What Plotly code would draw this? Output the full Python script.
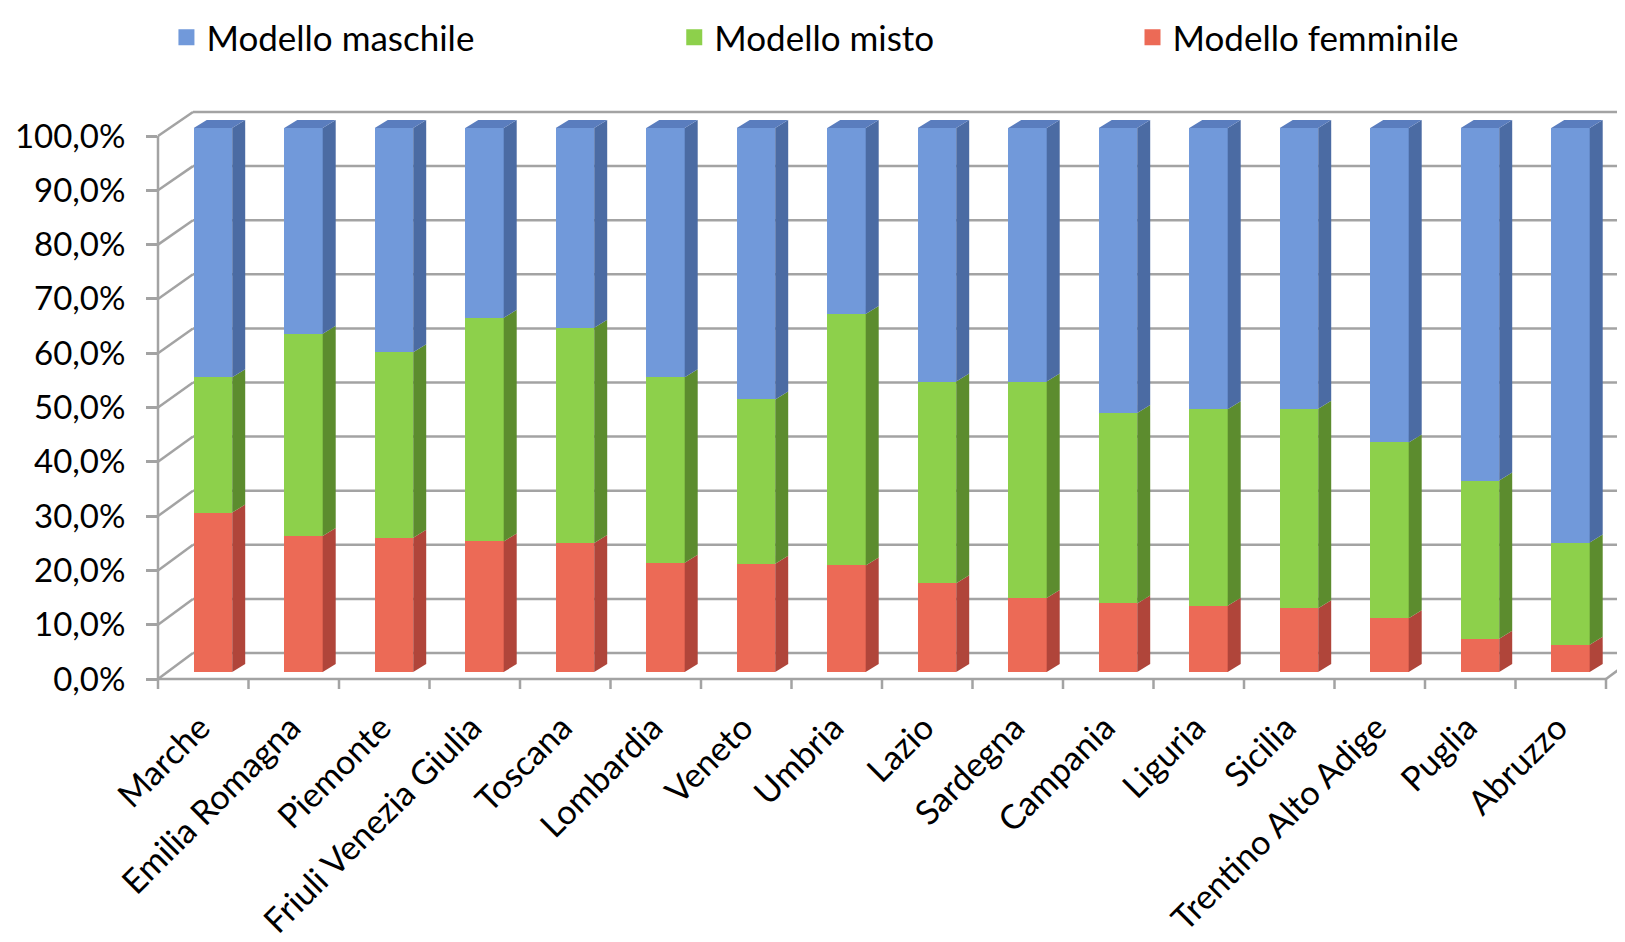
import plotly.graph_objects as go

# ---------------- data ----------------
categories = ["Marche", "Emilia Romagna", "Piemonte", "Friuli Venezia Giulia", "Toscana",
              "Lombardia", "Veneto", "Umbria", "Lazio", "Sardegna", "Campania", "Liguria",
              "Sicilia", "Trentino Alto Adige", "Puglia", "Abruzzo"]
femminile = [29.3, 25.0, 24.7, 24.0, 23.7, 20.1, 19.9, 19.6, 16.3, 13.6, 12.6, 12.2, 11.7, 9.9, 6.1, 5.0]
misto = [24.9, 37.2, 34.1, 41.1, 39.6, 34.1, 30.2, 46.2, 37.1, 39.8, 35.0, 36.1, 36.7, 32.3, 29.1, 18.8]
maschile = [45.8, 37.8, 41.2, 34.9, 36.7, 45.8, 49.9, 34.2, 46.6, 46.6, 52.4, 51.7, 51.6, 57.8, 64.8, 76.2]
y_ticks = [0, 10, 20, 30, 40, 50, 60, 70, 80, 90, 100]
y_tick_labels = ["0,0%", "10,0%", "20,0%", "30,0%", "40,0%", "50,0%",
                 "60,0%", "70,0%", "80,0%", "90,0%", "100,0%"]

series = [
    ("Modello femminile", femminile, "#EC6A56", "#B0453A", "#C9574A"),
    ("Modello misto", misto, "#8DD04B", "#5C8C2E", "#74AD3D"),
    ("Modello maschile", maschile, "#7199DA", "#4B6BA3", "#5A7DBE"),
]

# ---------------- geometry (figure pixels; page body adds 8px) ----------------
W, H = 1625, 942
O = 8                                            # page body margin
PL, PR, PT, PB = 158 - O, 1625, 100 - O, 700 - O  # plot area
X0_PX, UNIT_PX = 158 - O, 90.5                   # x=-0.5 at X0_PX
FRONT_Y0, FRONT_K = 679 - O, 5.43                # axis plane: py = y0 - k*v
BAR_Y0, BAR_K = 672 - O, 5.44                    # bar front faces
BACK_Y0, BACK_K, BACK_DX = 653 - O, 5.41, 35     # back wall
BAR_W, BAR_OFF = 0.425, -0.105
SIDE_DX = 13 / UNIT_PX
SIDE_DY = 8 / BAR_K
LABEL_SHIFT = 0.035
GRID = "#A3A3A3"

n = len(categories)
xr = [-0.5, -0.5 + (PR - X0_PX) / UNIT_PX]
yr_front = [(FRONT_Y0 - PB) / FRONT_K, (FRONT_Y0 - PT) / FRONT_K]
yr_bar = [(BAR_Y0 - PB) / BAR_K, (BAR_Y0 - PT) / BAR_K]


def xp(px):
    return (px - PL) / (PR - PL)


def yp(py):
    return (PB - py) / (PB - PT)


def xpx(x):
    return X0_PX + (x + 0.5) * UNIT_PX


fig = go.Figure()
xs = list(range(n))
shapes = []

# walls / floor
front_x_left = xpx(-0.5)
front_x_right = xpx(n - 0.5)
back_x_left = front_x_left + BACK_DX
for v in y_ticks:
    fy = FRONT_Y0 - FRONT_K * v
    by = BACK_Y0 - BACK_K * v
    shapes.append(dict(type="line", xref="paper", yref="paper", layer="below",
                       x0=xp(front_x_left), y0=yp(fy), x1=xp(back_x_left), y1=yp(by),
                       line=dict(color=GRID, width=2.5)))
    shapes.append(dict(type="line", xref="paper", yref="paper", layer="below",
                       x0=xp(back_x_left), y0=yp(by), x1=1, y1=yp(by),
                       line=dict(color=GRID, width=2.5)))
shapes.append(dict(type="line", xref="paper", yref="paper", layer="below",
                   x0=0, y0=yp(FRONT_Y0), x1=0, y1=yp(FRONT_Y0 - FRONT_K * 100),
                   line=dict(color=GRID, width=2.5)))
shapes.append(dict(type="line", xref="paper", yref="paper", layer="below",
                   x0=xp(front_x_left), y0=yp(FRONT_Y0), x1=xp(front_x_right), y1=yp(FRONT_Y0),
                   line=dict(color=GRID, width=2.5)))
shapes.append(dict(type="line", xref="paper", yref="paper", layer="below",
                   x0=xp(front_x_right), y0=yp(FRONT_Y0), x1=xp(front_x_right + BACK_DX),
                   y1=yp(BACK_Y0),
                   line=dict(color=GRID, width=2.5)))
for k in range(n + 1):
    px = xpx(k - 0.5)
    shapes.append(dict(type="line", xref="paper", yref="paper", layer="below",
                       x0=xp(px), y0=yp(FRONT_Y0), x1=xp(px), y1=yp(FRONT_Y0 + 10),
                       line=dict(color=GRID, width=2.5)))

# bars (front faces) + 3D side / top faces
for name, vals, c_front, c_side, c_top in series:
    fig.add_trace(go.Bar(
        x=xs, y=vals, name=name, width=BAR_W, offset=BAR_OFF,
        marker=dict(color=c_front, line=dict(width=0)),
        yaxis="y2", showlegend=False, hoverinfo="skip"))

bases = [0.0] * n
for name, vals, c_front, c_side, c_top in series:
    for i, v in enumerate(vals):
        b0, b1 = bases[i], bases[i] + v
        xl = i + BAR_OFF
        xrr = xl + BAR_W
        path = (f"M{xrr},{b0} L{xrr + SIDE_DX},{b0 + SIDE_DY} "
                f"L{xrr + SIDE_DX},{b1 + SIDE_DY} L{xrr},{b1} Z")
        shapes.append(dict(type="path", xref="x", yref="y2", path=path,
                           fillcolor=c_side, line=dict(width=0), layer="above"))
        bases[i] = b1
    if name == "Modello maschile":
        for i in range(n):
            xl = i + BAR_OFF
            xrr = xl + BAR_W
            t = bases[i]
            path = (f"M{xl},{t} L{xl + SIDE_DX},{t + SIDE_DY} "
                    f"L{xrr + SIDE_DX},{t + SIDE_DY} L{xrr},{t} Z")
            shapes.append(dict(type="path", xref="x", yref="y2", path=path,
                               fillcolor=c_top, line=dict(width=0), layer="above"))

# legend entries (three separate legends placed like the original)
legend_pos = {"Modello maschile": ("legend", 0.0975),
              "Modello misto": ("legend2", 0.410),
              "Modello femminile": ("legend3", 0.692)}
FONT = "Lato, Carlito, Calibri, sans-serif"
legend_layouts = {}
for name, vals, c_front, c_side, c_top in series:
    lg, lx = legend_pos[name]
    fig.add_trace(go.Scatter(
        x=[None], y=[None], mode="markers", name=name, legend=lg,
        marker=dict(symbol="square", size=16, color=c_front), yaxis="y"))
    legend_layouts[lg] = dict(x=lx, y=1, xref="container", yref="container",
                              xanchor="left", yanchor="top", orientation="h",
                              bgcolor="rgba(0,0,0,0)", itemsizing="trace",
                              font=dict(family=FONT, size=35, color="#000000"))

fig.update_layout(
    width=W, height=H,
    margin=dict(l=PL, r=W - PR, t=PT, b=H - PB),
    paper_bgcolor="white", plot_bgcolor="white",
    barmode="stack", bargap=0,
    shapes=shapes,
    font=dict(family=FONT, color="#000000"),
    xaxis=dict(range=xr, tickmode="array", tickvals=[x - LABEL_SHIFT for x in xs],
               ticktext=categories,
               tickangle=-45, showgrid=False, zeroline=False, showline=False,
               ticks="", tickfont=dict(family=FONT, size=34, color="#000000")),
    yaxis=dict(range=yr_front, tickmode="array", tickvals=y_ticks, ticktext=y_tick_labels,
               showgrid=False, zeroline=False,
               showline=False, ticks="outside", ticklen=11, tickwidth=2.5, tickcolor=GRID,
               showticklabels=True, ticklabeloverflow="allow", ticklabelstandoff=14,
               tickfont=dict(family=FONT, size=33, color="#000000")),
    yaxis2=dict(range=yr_bar, overlaying="y", visible=False),
    **legend_layouts,
)

fig.write_html("out.html")
